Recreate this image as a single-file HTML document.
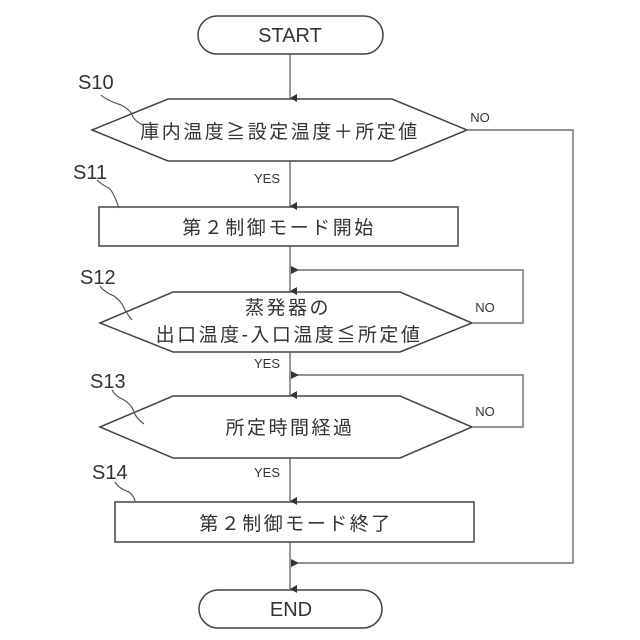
<!DOCTYPE html>
<html><head><meta charset="utf-8"><style>html,body{margin:0;padding:0;background:#fff}svg{display:block}</style></head>
<body>
<svg width="640" height="640" viewBox="0 0 640 640" xmlns="http://www.w3.org/2000/svg" font-family="'Liberation Sans','Noto Sans CJK JP',sans-serif">
<defs><marker id="a" markerWidth="8" markerHeight="8" refX="4" refY="7" orient="auto" markerUnits="userSpaceOnUse"><path d="M0,0 L8,0 L4,7 z" fill="#333"/></marker>
<marker id="l" markerWidth="8" markerHeight="8" refX="7" refY="4" orient="auto" markerUnits="userSpaceOnUse"><path d="M8,0 L8,8 L0,4 z" fill="#333"/></marker></defs>
<g stroke="#444" stroke-width="1.5" fill="none">
<rect x="198" y="16" width="185" height="38" rx="19"/>
<polygon points="92,130 168,99 392,99 467,130 392,161 168,161"/>
<rect x="99" y="207" width="359" height="39"/>
<polygon points="100,323 173,292 400,292 472,323 400,352 173,352"/>
<polygon points="100,427 173,396 400,396 472,427 400,458 173,458"/>
<rect x="115" y="502" width="359" height="40"/>
<rect x="199" y="590" width="183" height="38" rx="19"/>
</g>
<g stroke="#555" stroke-width="1.2" fill="none">
<line x1="290" y1="54" x2="290" y2="98" marker-end="url(#a)"/>
<line x1="290" y1="161" x2="290" y2="206" marker-end="url(#a)"/>
<line x1="290" y1="246" x2="290" y2="291" marker-end="url(#a)"/>
<line x1="290" y1="352" x2="290" y2="395" marker-end="url(#a)"/>
<line x1="290" y1="458" x2="290" y2="501" marker-end="url(#a)"/>
<line x1="290" y1="542" x2="290" y2="589" marker-end="url(#a)"/>
<polyline points="467,130 573,130 573,563 292,563" marker-end="url(#l)"/>
<polyline points="472,323 523,323 523,270 292,270" marker-end="url(#l)"/>
<polyline points="472,427 523,427 523,375 292,375" marker-end="url(#l)"/>
<path d="M101,95 q5,5 20,10 q10,5 12,12 q3,5 10,8 M97,180 q5,5 12,8 q5,5 10,20 M100,286 q4,6 14,10 q8,6 10,12 q3,6 8,12 M112,390 q3,6 12,10 q8,5 10,12 q2,6 10,12 M115,482 q3,6 14,10 q6,5 6,10"/>
</g>
<g fill="#333" font-size="20" text-anchor="middle">
<text x="290" y="42">START</text>
<text x="291" y="616">END</text>
</g>
<g fill="#333" font-size="19" text-anchor="middle" letter-spacing="2.5">
<text x="280" y="138">庫内温度≧設定温度＋所定値</text>
<text x="279" y="234">第２制御モード開始</text>
<text x="288" y="314">蒸発器の</text>
<text x="289" y="341">出口温度-入口温度≦所定値</text>
<text x="290" y="434">所定時間経過</text>
<text x="296" y="530">第２制御モード終了</text>
</g>
<g fill="#333" font-size="13" text-anchor="middle">
<text x="267" y="183">YES</text><text x="267" y="368">YES</text><text x="267" y="477">YES</text>
<text x="480" y="122">NO</text><text x="485" y="312">NO</text><text x="485" y="416">NO</text>
</g>
<g fill="#333" font-size="20">
<text x="78" y="89">S10</text><text x="73" y="179">S11</text><text x="80" y="284">S12</text><text x="90" y="388">S13</text><text x="92" y="479">S14</text>
</g>
</svg>
</body></html>
